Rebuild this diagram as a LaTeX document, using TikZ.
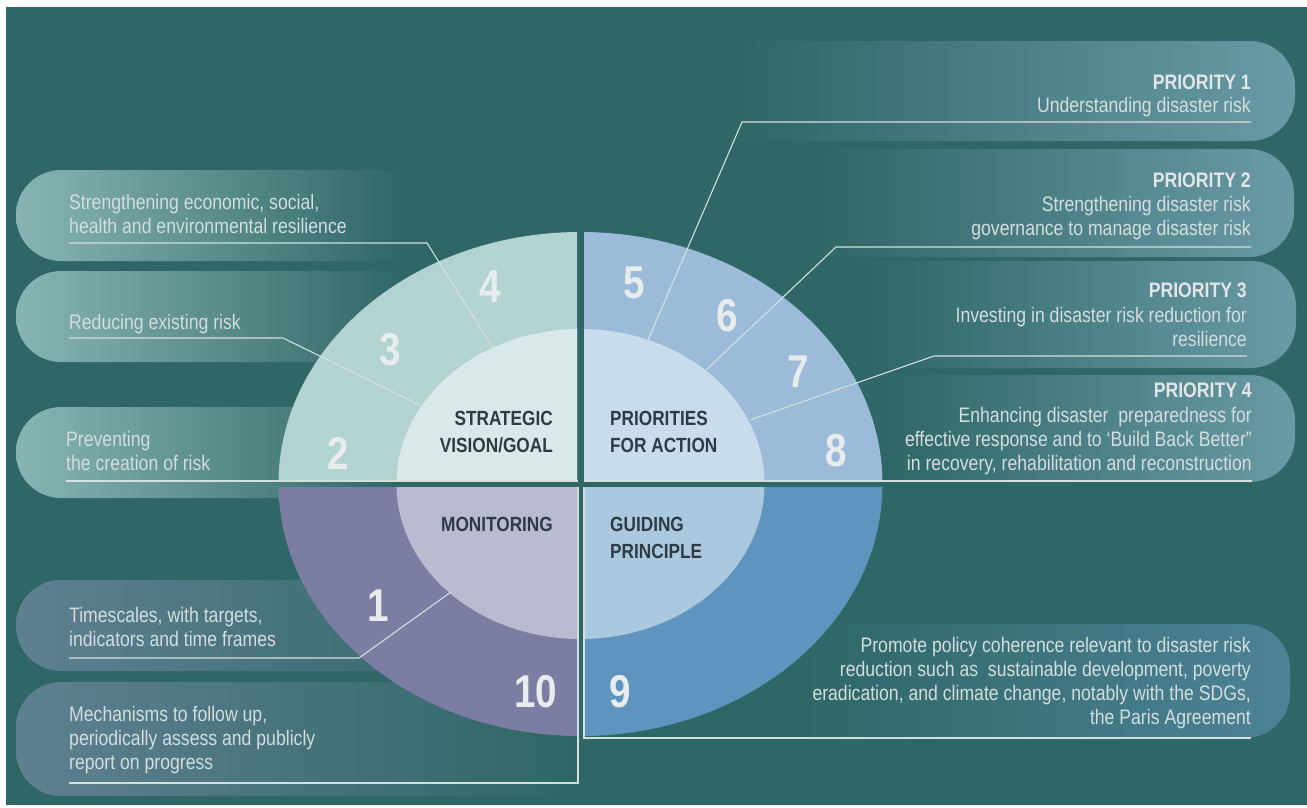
\documentclass[tikz,border=0pt]{standalone}
\usepackage{fontspec}
\setmainfont[FakeStretch=0.84]{Liberation Sans}
\definecolor{bg}{HTML}{2E6766}
\definecolor{tlOut}{HTML}{B3D3D3}
\definecolor{tlIn}{HTML}{D9E9E9}
\definecolor{trOut}{HTML}{9BBBD8}
\definecolor{trIn}{HTML}{C9DCEB}
\definecolor{blOut}{HTML}{7B7DA3}
\definecolor{blIn}{HTML}{B9BBD1}
\definecolor{brOut}{HTML}{5F94BF}
\definecolor{brIn}{HTML}{AAC8DE}
\definecolor{txt}{HTML}{D3DEDD}
\definecolor{head}{HTML}{E2E6E6}
\definecolor{dark}{HTML}{2E3B45}
\definecolor{numc}{HTML}{E8ECEC}
\definecolor{rule}{HTML}{D3E0DF}
\definecolor{boxL}{HTML}{88B5B4}
\definecolor{boxR}{HTML}{6A9AA6}
\definecolor{boxP}{HTML}{5F8091}
\definecolor{boxB}{HTML}{4D8397}
% bands fading out towards the ring (path box maps to 25bp..75bp)
\pgfdeclarehorizontalshading{fadeL}{100bp}{color(0bp)=(boxL); color(25bp)=(boxL); color(62bp)=(bg); color(100bp)=(bg)}
\pgfdeclarehorizontalshading{fadeP}{100bp}{color(0bp)=(boxP); color(25bp)=(boxP); color(75bp)=(bg); color(100bp)=(bg)}
\pgfdeclarehorizontalshading{fadeR}{100bp}{color(0bp)=(bg); color(35bp)=(bg); color(75bp)=(boxR); color(100bp)=(boxR)}
\pgfdeclarehorizontalshading{fadeB}{100bp}{color(0bp)=(bg); color(35bp)=(bg); color(75bp)=(boxB); color(100bp)=(boxB)}
\begin{document}
\begin{tikzpicture}[x=1pt,y=-1pt,
  body/.style={inner sep=0pt, text=txt, font=\fontsize{21}{24}\selectfont},
  head/.style={inner sep=0pt, text=head, font=\bfseries\fontsize{21}{24}\selectfont},
  core/.style={inner sep=0pt, text=dark, font=\bfseries\fontsize{20.5}{26.5}\selectfont},
  num/.style={inner sep=0pt, text=numc, font=\bfseries\fontsize{46}{46}\selectfont},
  band/.style={shading=#1, rounded corners=45pt},
  link/.style={draw=rule, line width=1.1pt}]
\useasboundingbox (0,0) rectangle (1307,807);
\fill[white] (0,0) rectangle (1307,807);
\fill[bg] (6,7) rectangle (1307,805);

% rounded label bands
\shade[band=fadeL] (16,170) rectangle (540,261);
\shade[band=fadeL] (16,271) rectangle (540,362);
\shade[band=fadeL] (16,407) rectangle (540,498);
\shade[band=fadeP] (16,580) rectangle (560,671);
\shade[band=fadeP] (16,682) rectangle (580,796);
\shade[band=fadeR] (600,41) rectangle (1295,141);
\shade[band=fadeR] (700,149) rectangle (1294,257);
\shade[band=fadeR] (760,261) rectangle (1296,368);
\shade[band=fadeR] (780,375) rectangle (1295,482);
\shade[band=fadeB] (680,624) rectangle (1290,738);

% four quarters of the ring
\coordinate (c) at (580.5,484);
\begin{scope}
  \clip (270,220) rectangle (577,481);
  \fill[tlOut] (c) ellipse [x radius=302pt, y radius=252pt];
  \fill[tlIn] (c) ellipse [x radius=184pt, y radius=155pt];
\end{scope}
\begin{scope}
  \clip (584,220) rectangle (890,481);
  \fill[trOut] (c) ellipse [x radius=302pt, y radius=252pt];
  \fill[trIn] (c) ellipse [x radius=184pt, y radius=155pt];
\end{scope}
\begin{scope}
  \clip (270,487) rectangle (577,745);
  \fill[blOut] (c) ellipse [x radius=302pt, y radius=252pt];
  \fill[blIn] (c) ellipse [x radius=184pt, y radius=155pt];
\end{scope}
\begin{scope}
  \clip (584,487) rectangle (890,745);
  \fill[brOut] (c) ellipse [x radius=302pt, y radius=252pt];
  \fill[brIn] (c) ellipse [x radius=184pt, y radius=155pt];
\end{scope}

% quarter titles (base = last line)
\node[core, align=right, anchor=base east] (goal) at (553,452) {STRATEGIC\\VISION/GOAL};
\node[core, align=left, anchor=base west] (action) at (610,452) {PRIORITIES\\FOR ACTION};
\node[core, anchor=base east] (monitor) at (553,531) {MONITORING};
\node[core, align=left, anchor=base west] (guide) at (610,558) {GUIDING\\PRINCIPLE};

% segment numbers
\node[num] (n1) at (378,606) {1};
\node[num] (n2) at (338,453) {2};
\node[num] (n3) at (390,350) {3};
\node[num] (n4) at (490,287) {4};
\node[num] (n5) at (634,283) {5};
\node[num] (n6) at (727,316) {6};
\node[num] (n7) at (798,372) {7};
\node[num] (n8) at (836,451) {8};
\node[num] (n9) at (620,692) {9};
\node[num] (n10) at (536,692) {10};

% left-hand texts (base = last line)
\node[body, align=left, anchor=base west] (t4) at (69,233) {Strengthening economic, social,\\health and environmental resilience};
\node[body, anchor=base west] (t3) at (69,329) {Reducing existing risk};
\node[body, align=left, anchor=base west] (t2) at (66,470.5) {Preventing\\the creation of risk};
\node[body, align=left, anchor=base west] (t1) at (69,646.5) {Timescales, with targets,\\indicators and time frames};
\node[body, align=left, anchor=base west] (t10) at (69,769.5) {Mechanisms to follow up,\\periodically assess and publicly\\report on progress};

% right-hand texts (base = last line)
\node[head, anchor=base east] (p1) at (1251,89) {PRIORITY 1};
\node[body, anchor=base east] (p1t) at (1251,112) {Understanding disaster risk};
\node[head, anchor=base east] (p2) at (1251,187) {PRIORITY 2};
\node[body, align=right, anchor=base east] (p2t) at (1251,235) {Strengthening disaster risk\\governance to manage disaster risk};
\node[head, anchor=base east] (p3) at (1247,297) {PRIORITY 3};
\node[body, align=right, anchor=base east] (p3t) at (1247,346) {Investing in disaster risk reduction for\\resilience};
\node[head, anchor=base east] (p4) at (1252,397) {PRIORITY 4};
\node[body, align=right, anchor=base east] (p4t) at (1252,470) {Enhancing disaster\ \ preparedness for\\effective response and to `Build Back Better''\\in recovery, rehabilitation and reconstruction};
\node[body, align=right, anchor=base east] (t9) at (1251,724) {Promote policy coherence relevant to disaster risk\\reduction such as\ \ sustainable development, poverty\\eradication, and climate change, notably with the SDGs,\\the Paris Agreement};

% leader lines: band rule, bend, point on the inner ring
\coordinate (a4) at (69,243);   \coordinate (b4) at (427,243);  \coordinate (e4) at (493,348);
\coordinate (a3) at (69,338);   \coordinate (b3) at (283,338);  \coordinate (e3) at (420,405);
\coordinate (a2) at (66,481);   \coordinate (e2) at (578,481);
\coordinate (a1) at (69,658);   \coordinate (b1) at (359,658);  \coordinate (e1) at (451,592);
\coordinate (a10) at (69,783);  \coordinate (b10) at (578,783); \coordinate (e10) at (578,487);
\coordinate (q1) at (1251,122); \coordinate (r1) at (742,122);  \coordinate (s1) at (648,340);
\coordinate (q2) at (1251,247); \coordinate (r2) at (836,247);  \coordinate (s2) at (706,370);
\coordinate (q3) at (1247,356); \coordinate (r3) at (934,356);  \coordinate (s3) at (750,420);
\coordinate (q4) at (1252,481); \coordinate (s4) at (584,481);
\coordinate (q9) at (1251,738); \coordinate (r9) at (584,738);  \coordinate (s9) at (584,487);

\draw[link] (a4) -- (b4) -- (e4);
\draw[link] (a3) -- (b3) -- (e3);
\draw[link] (a2) -- (e2);
\draw[link] (a1) -- (b1) -- (e1);
\draw[link] (a10) -- (b10) -- (e10);
\draw[link] (q1) -- (r1) -- (s1);
\draw[link] (q2) -- (r2) -- (s2);
\draw[link] (q3) -- (r3) -- (s3);
\draw[link] (q4) -- (s4);
\draw[link] (q9) -- (r9) -- (s9);
\end{tikzpicture}
\end{document}
